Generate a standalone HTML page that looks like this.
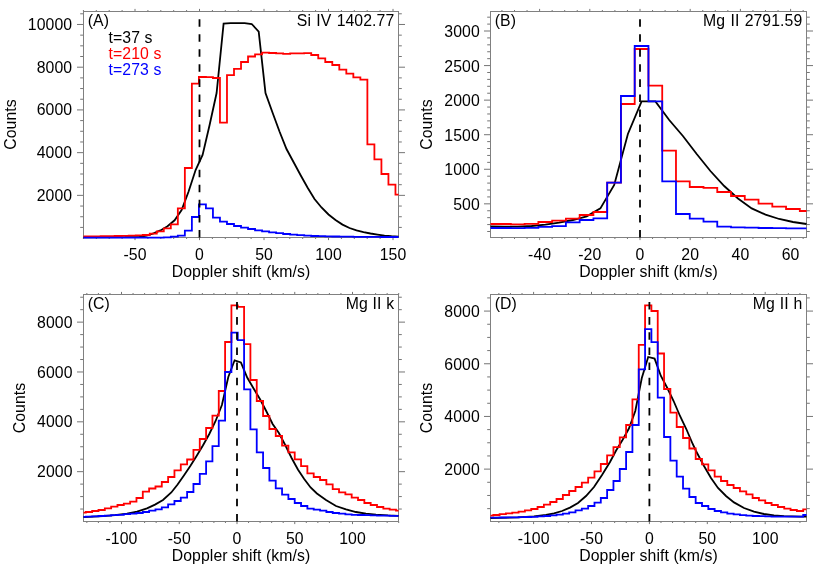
<!DOCTYPE html>
<html><head><meta charset="utf-8"><title>Line profiles</title>
<style>
html,body{margin:0;padding:0;background:#fff;}
svg{display:block;will-change:transform;}
text{font-family:"Liberation Sans",sans-serif;font-size:15.8px;fill:#000;font-kerning:none;letter-spacing:0.08px;}
</style></head>
<body>
<svg width="830" height="567" viewBox="0 0 830 567">
<rect x="0" y="0" width="830" height="567" fill="#ffffff"/>
<path d="M83.4,237.5v1.5M83.4,11.5v-1.5M96.3,237.5v1.5M96.3,11.5v-1.5M109.2,237.5v1.5M109.2,11.5v-1.5M122.1,237.5v1.5M122.1,11.5v-1.5M135,237.5v2.6M135,11.5v-2.6M147.9,237.5v1.5M147.9,11.5v-1.5M160.8,237.5v1.5M160.8,11.5v-1.5M173.7,237.5v1.5M173.7,11.5v-1.5M186.6,237.5v1.5M186.6,11.5v-1.5M199.5,237.5v2.6M199.5,11.5v-2.6M212.4,237.5v1.5M212.4,11.5v-1.5M225.3,237.5v1.5M225.3,11.5v-1.5M238.2,237.5v1.5M238.2,11.5v-1.5M251.1,237.5v1.5M251.1,11.5v-1.5M264,237.5v2.6M264,11.5v-2.6M276.9,237.5v1.5M276.9,11.5v-1.5M289.8,237.5v1.5M289.8,11.5v-1.5M302.7,237.5v1.5M302.7,11.5v-1.5M315.6,237.5v1.5M315.6,11.5v-1.5M328.5,237.5v2.6M328.5,11.5v-2.6M341.4,237.5v1.5M341.4,11.5v-1.5M354.3,237.5v1.5M354.3,11.5v-1.5M367.2,237.5v1.5M367.2,11.5v-1.5M380.1,237.5v1.5M380.1,11.5v-1.5M393,237.5v2.6M393,11.5v-2.6M83.5,227.42h-3.3M398.5,227.42h3.3M83.5,216.74h-3.3M398.5,216.74h3.3M83.5,206.06h-3.3M398.5,206.06h3.3M83.5,195.37h-6.5M398.5,195.37h6.5M83.5,184.69h-3.3M398.5,184.69h3.3M83.5,174.01h-3.3M398.5,174.01h3.3M83.5,163.33h-3.3M398.5,163.33h3.3M83.5,152.65h-6.5M398.5,152.65h6.5M83.5,141.97h-3.3M398.5,141.97h3.3M83.5,131.28h-3.3M398.5,131.28h3.3M83.5,120.6h-3.3M398.5,120.6h3.3M83.5,109.92h-6.5M398.5,109.92h6.5M83.5,99.24h-3.3M398.5,99.24h3.3M83.5,88.56h-3.3M398.5,88.56h3.3M83.5,77.88h-3.3M398.5,77.88h3.3M83.5,67.2h-6.5M398.5,67.2h6.5M83.5,56.51h-3.3M398.5,56.51h3.3M83.5,45.83h-3.3M398.5,45.83h3.3M83.5,35.15h-3.3M398.5,35.15h3.3M83.5,24.47h-6.5M398.5,24.47h6.5M83.5,13.79h-3.3M398.5,13.79h3.3" stroke="#000" stroke-width="0.55" fill="none"/>
<rect x="83.5" y="11.5" width="315" height="226" fill="none" stroke="#808080" stroke-width="1" shape-rendering="crispEdges"/>
<polyline points="83.5,237.4 125,237.2 139.5,236.8 146.5,235.5 153.5,233.4 160.5,230.4 167.5,226.2 174.6,220.3 181.6,210 188.6,191.5 195.6,170 202.6,155 209.6,125 216.6,93 223.6,23.6 230.6,23.2 237.6,23.2 244.6,23.2 251.7,24 258.7,31.6 265.5,93 272.5,112.5 279.5,131.5 286.5,149 293.5,162 300.5,175 307.5,187.5 314.5,199 321.5,207.5 328.5,214.5 335.5,220 342.5,224.6 349.5,228 356.5,230.4 363.5,232.2 370.5,233.5 377.5,234.6 384.5,235.6 391.5,236.2 398.5,236.6" fill="none" stroke="#000000" stroke-width="1.8" stroke-linejoin="miter" stroke-linejoin="round"/>
<polyline points="83.5,236.3 86.58,236.3 86.58,236.3 93.6,236.3 93.6,236.3 100.62,236.3 100.62,236.2 107.64,236.2 107.64,236.1 114.66,236.1 114.66,236 121.68,236 121.68,235.8 128.7,235.8 128.7,235.6 135.72,235.6 135.72,235.3 142.74,235.3 142.74,235 149.76,235 149.76,233.6 156.78,233.6 156.78,231.4 163.8,231.4 163.8,228.4 170.82,228.4 170.82,224.4 177.84,224.4 177.84,208.4 184.86,208.4 184.86,168 191.88,168 191.88,83.6 198.9,83.6 198.9,77 205.92,77 205.92,77.2 212.94,77.2 212.94,78 219.96,78 219.96,122.7 226.98,122.7 226.98,75.1 234,75.1 234,68.9 241.02,68.9 241.02,62 248.04,62 248.04,56.5 255.06,56.5 255.06,54.4 262.08,54.4 262.08,52.6 269.1,52.6 269.1,53 276.12,53 276.12,53.4 283.14,53.4 283.14,53.8 290.16,53.8 290.16,53.4 297.18,53.4 297.18,53.4 304.2,53.4 304.2,53.2 311.22,53.2 311.22,55 318.24,55 318.24,58.4 325.26,58.4 325.26,62 332.28,62 332.28,65 339.3,65 339.3,69.6 346.32,69.6 346.32,73.6 353.34,73.6 353.34,77.4 360.36,77.4 360.36,79.6 367.38,79.6 367.38,144.4 374.4,144.4 374.4,159.4 381.42,159.4 381.42,174 388.44,174 388.44,184.6 395.46,184.6 395.46,194.6 398.5,194.6" fill="none" stroke="#ff0000" stroke-width="1.8" stroke-linejoin="miter" />
<polyline points="83.5,237.7 86.58,237.7 86.58,237.7 93.6,237.7 93.6,237.7 100.62,237.7 100.62,237.7 107.64,237.7 107.64,237.7 114.66,237.7 114.66,237.7 121.68,237.7 121.68,237.7 128.7,237.7 128.7,237.7 135.72,237.7 135.72,237.7 142.74,237.7 142.74,237.7 149.76,237.7 149.76,237.7 156.78,237.7 156.78,237.7 163.8,237.7 163.8,237.3 170.82,237.3 170.82,236.6 177.84,236.6 177.84,235.6 184.86,235.6 184.86,230.6 191.88,230.6 191.88,217 198.9,217 198.9,204.4 205.92,204.4 205.92,208.4 212.94,208.4 212.94,217.6 219.96,217.6 219.96,221.6 226.98,221.6 226.98,224 234,224 234,226 241.02,226 241.02,227.6 248.04,227.6 248.04,229 255.06,229 255.06,230.4 262.08,230.4 262.08,231.4 269.1,231.4 269.1,232.4 276.12,232.4 276.12,233.2 283.14,233.2 283.14,234 290.16,234 290.16,234.6 297.18,234.6 297.18,235.2 304.2,235.2 304.2,235.6 311.22,235.6 311.22,236 318.24,236 318.24,236.2 325.26,236.2 325.26,236.4 332.28,236.4 332.28,236.5 339.3,236.5 339.3,236.6 346.32,236.6 346.32,236.7 353.34,236.7 353.34,236.8 360.36,236.8 360.36,236.8 367.38,236.8 367.38,236.9 374.4,236.9 374.4,236.9 381.42,236.9 381.42,237 388.44,237 388.44,237 395.46,237 395.46,237 398.5,237" fill="none" stroke="#0000ff" stroke-width="1.8" stroke-linejoin="miter" />
<line x1="199.5" y1="237.5" x2="199.5" y2="14" stroke="#000" stroke-width="1.8" stroke-dasharray="7.53 7.53"/>
<text transform="translate(72.2,200.87)" text-anchor="end">2000</text>
<text transform="translate(72.2,158.15)" text-anchor="end">4000</text>
<text transform="translate(72.2,115.42)" text-anchor="end">6000</text>
<text transform="translate(72.2,72.7)" text-anchor="end">8000</text>
<text transform="translate(72.2,29.97)" text-anchor="end">10000</text>
<text transform="translate(135,259.9)" text-anchor="middle">-50</text>
<text transform="translate(199.5,259.9)" text-anchor="middle">0</text>
<text transform="translate(264,259.9)" text-anchor="middle">50</text>
<text transform="translate(328.5,259.9)" text-anchor="middle">100</text>
<text transform="translate(393,259.9)" text-anchor="middle">150</text>
<text transform="translate(241,277.3)" text-anchor="middle">Doppler shift (km/s)</text>
<text transform="translate(15.9,124.5) rotate(-90)" text-anchor="middle">Counts</text>
<text transform="translate(87.7,25.9)">(A)</text>
<text transform="translate(394.3,25.6)" text-anchor="end" style="word-spacing:0.8px">Si IV 1402.77</text>
<text transform="translate(108.6,42.6)" style="fill:#000000">t=37 s</text>
<text transform="translate(108.6,58.8)" style="fill:#ff0000">t=210 s</text>
<text transform="translate(108.6,75)" style="fill:#0000ff">t=273 s</text>
<path d="M501.95,237.5v1.5M501.95,11.5v-1.5M514.5,237.5v1.5M514.5,11.5v-1.5M527.05,237.5v1.5M527.05,11.5v-1.5M539.6,237.5v2.6M539.6,11.5v-2.6M552.15,237.5v1.5M552.15,11.5v-1.5M564.7,237.5v1.5M564.7,11.5v-1.5M577.25,237.5v1.5M577.25,11.5v-1.5M589.8,237.5v2.6M589.8,11.5v-2.6M602.35,237.5v1.5M602.35,11.5v-1.5M614.9,237.5v1.5M614.9,11.5v-1.5M627.45,237.5v1.5M627.45,11.5v-1.5M640,237.5v2.6M640,11.5v-2.6M652.55,237.5v1.5M652.55,11.5v-1.5M665.1,237.5v1.5M665.1,11.5v-1.5M677.65,237.5v1.5M677.65,11.5v-1.5M690.2,237.5v2.6M690.2,11.5v-2.6M702.75,237.5v1.5M702.75,11.5v-1.5M715.3,237.5v1.5M715.3,11.5v-1.5M727.85,237.5v1.5M727.85,11.5v-1.5M740.4,237.5v2.6M740.4,11.5v-2.6M752.95,237.5v1.5M752.95,11.5v-1.5M765.5,237.5v1.5M765.5,11.5v-1.5M778.05,237.5v1.5M778.05,11.5v-1.5M790.6,237.5v2.6M790.6,11.5v-2.6M803.15,237.5v1.5M803.15,11.5v-1.5M490.5,231.49h-3.3M806.5,231.49h3.3M490.5,224.57h-3.3M806.5,224.57h3.3M490.5,217.66h-3.3M806.5,217.66h3.3M490.5,210.75h-3.3M806.5,210.75h3.3M490.5,203.84h-6.5M806.5,203.84h6.5M490.5,196.92h-3.3M806.5,196.92h3.3M490.5,190.01h-3.3M806.5,190.01h3.3M490.5,183.1h-3.3M806.5,183.1h3.3M490.5,176.18h-3.3M806.5,176.18h3.3M490.5,169.27h-6.5M806.5,169.27h6.5M490.5,162.36h-3.3M806.5,162.36h3.3M490.5,155.44h-3.3M806.5,155.44h3.3M490.5,148.53h-3.3M806.5,148.53h3.3M490.5,141.62h-3.3M806.5,141.62h3.3M490.5,134.71h-6.5M806.5,134.71h6.5M490.5,127.79h-3.3M806.5,127.79h3.3M490.5,120.88h-3.3M806.5,120.88h3.3M490.5,113.97h-3.3M806.5,113.97h3.3M490.5,107.05h-3.3M806.5,107.05h3.3M490.5,100.14h-6.5M806.5,100.14h6.5M490.5,93.23h-3.3M806.5,93.23h3.3M490.5,86.31h-3.3M806.5,86.31h3.3M490.5,79.4h-3.3M806.5,79.4h3.3M490.5,72.49h-3.3M806.5,72.49h3.3M490.5,65.58h-6.5M806.5,65.58h6.5M490.5,58.66h-3.3M806.5,58.66h3.3M490.5,51.75h-3.3M806.5,51.75h3.3M490.5,44.84h-3.3M806.5,44.84h3.3M490.5,37.92h-3.3M806.5,37.92h3.3M490.5,31.01h-6.5M806.5,31.01h6.5M490.5,24.1h-3.3M806.5,24.1h3.3M490.5,17.18h-3.3M806.5,17.18h3.3" stroke="#000" stroke-width="0.55" fill="none"/>
<rect x="490.5" y="11.5" width="316" height="226" fill="none" stroke="#808080" stroke-width="1" shape-rendering="crispEdges"/>
<polyline points="490.5,226.4 504.1,226.6 517.9,226.6 531.6,226 545.4,224.6 559.1,222.6 572.9,220 586.7,216.4 600.4,208.4 614.2,185 627.9,134 641.6,101.4 655.4,101.4 669.2,120 682.9,136 696.7,154 710.4,171 724.2,186 738,198.5 751.7,208.4 765.5,214.6 779.2,219 793,222 806.5,224" fill="none" stroke="#000000" stroke-width="1.8" stroke-linejoin="miter" stroke-linejoin="round"/>
<polyline points="490.5,224 497.1,224 497.1,224 510.86,224 510.86,224.4 524.62,224.4 524.62,223.8 538.38,223.8 538.38,222 552.14,222 552.14,220.6 565.9,220.6 565.9,218.6 579.66,218.6 579.66,215 593.42,215 593.42,212 607.18,212 607.18,182.6 620.94,182.6 620.94,104 634.7,104 634.7,49 648.46,49 648.46,85.6 662.22,85.6 662.22,150.6 675.98,150.6 675.98,181.4 689.74,181.4 689.74,187 703.5,187 703.5,187.8 717.26,187.8 717.26,192 731.02,192 731.02,196 744.78,196 744.78,199.6 758.54,199.6 758.54,203.6 772.3,203.6 772.3,206.6 786.06,206.6 786.06,209 799.82,209 799.82,211 806.5,211" fill="none" stroke="#ff0000" stroke-width="1.8" stroke-linejoin="miter" />
<polyline points="490.5,228 497.1,228 497.1,228 510.86,228 510.86,228.2 524.62,228.2 524.62,227.8 538.38,227.8 538.38,226.9 552.14,226.9 552.14,226.2 565.9,226.2 565.9,222.4 579.66,222.4 579.66,220 593.42,220 593.42,218.4 607.18,218.4 607.18,182.6 620.94,182.6 620.94,96 634.7,96 634.7,46 648.46,46 648.46,101.4 662.22,101.4 662.22,181.4 675.98,181.4 675.98,214 689.74,214 689.74,218.6 703.5,218.6 703.5,221.6 717.26,221.6 717.26,226.6 731.02,226.6 731.02,227.4 744.78,227.4 744.78,227.6 758.54,227.6 758.54,228 772.3,228 772.3,228.2 786.06,228.2 786.06,228.4 799.82,228.4 799.82,228.4 806.5,228.4" fill="none" stroke="#0000ff" stroke-width="1.8" stroke-linejoin="miter" />
<line x1="640" y1="237.5" x2="640" y2="14" stroke="#000" stroke-width="1.8" stroke-dasharray="7.53 7.53"/>
<text transform="translate(479.8,209.84)" text-anchor="end">500</text>
<text transform="translate(479.8,175.27)" text-anchor="end">1000</text>
<text transform="translate(479.8,140.71)" text-anchor="end">1500</text>
<text transform="translate(479.8,106.14)" text-anchor="end">2000</text>
<text transform="translate(479.8,71.58)" text-anchor="end">2500</text>
<text transform="translate(479.8,37.01)" text-anchor="end">3000</text>
<text transform="translate(539.6,259.9)" text-anchor="middle">-40</text>
<text transform="translate(589.8,259.9)" text-anchor="middle">-20</text>
<text transform="translate(640,259.9)" text-anchor="middle">0</text>
<text transform="translate(690.2,259.9)" text-anchor="middle">20</text>
<text transform="translate(740.4,259.9)" text-anchor="middle">40</text>
<text transform="translate(790.6,259.9)" text-anchor="middle">60</text>
<text transform="translate(648.5,277.3)" text-anchor="middle">Doppler shift (km/s)</text>
<text transform="translate(432,124.5) rotate(-90)" text-anchor="middle">Counts</text>
<text transform="translate(494.7,25.9)">(B)</text>
<text transform="translate(802.3,25.6)" text-anchor="end" style="word-spacing:0.8px">Mg II 2791.59</text>
<path d="M86.85,521.5v1.5M86.85,294.5v-1.5M98.4,521.5v1.5M98.4,294.5v-1.5M109.95,521.5v1.5M109.95,294.5v-1.5M121.5,521.5v2.6M121.5,294.5v-2.6M133.05,521.5v1.5M133.05,294.5v-1.5M144.6,521.5v1.5M144.6,294.5v-1.5M156.15,521.5v1.5M156.15,294.5v-1.5M167.7,521.5v1.5M167.7,294.5v-1.5M179.25,521.5v2.6M179.25,294.5v-2.6M190.8,521.5v1.5M190.8,294.5v-1.5M202.35,521.5v1.5M202.35,294.5v-1.5M213.9,521.5v1.5M213.9,294.5v-1.5M225.45,521.5v1.5M225.45,294.5v-1.5M237,521.5v2.6M237,294.5v-2.6M248.55,521.5v1.5M248.55,294.5v-1.5M260.1,521.5v1.5M260.1,294.5v-1.5M271.65,521.5v1.5M271.65,294.5v-1.5M283.2,521.5v1.5M283.2,294.5v-1.5M294.75,521.5v2.6M294.75,294.5v-2.6M306.3,521.5v1.5M306.3,294.5v-1.5M317.85,521.5v1.5M317.85,294.5v-1.5M329.4,521.5v1.5M329.4,294.5v-1.5M340.95,521.5v1.5M340.95,294.5v-1.5M352.5,521.5v2.6M352.5,294.5v-2.6M364.05,521.5v1.5M364.05,294.5v-1.5M375.6,521.5v1.5M375.6,294.5v-1.5M387.15,521.5v1.5M387.15,294.5v-1.5M398.7,521.5v1.5M398.7,294.5v-1.5M83.5,509.04h-3.3M398.5,509.04h3.3M83.5,496.58h-3.3M398.5,496.58h3.3M83.5,484.12h-3.3M398.5,484.12h3.3M83.5,471.66h-6.5M398.5,471.66h6.5M83.5,459.2h-3.3M398.5,459.2h3.3M83.5,446.74h-3.3M398.5,446.74h3.3M83.5,434.28h-3.3M398.5,434.28h3.3M83.5,421.82h-6.5M398.5,421.82h6.5M83.5,409.36h-3.3M398.5,409.36h3.3M83.5,396.9h-3.3M398.5,396.9h3.3M83.5,384.44h-3.3M398.5,384.44h3.3M83.5,371.98h-6.5M398.5,371.98h6.5M83.5,359.52h-3.3M398.5,359.52h3.3M83.5,347.06h-3.3M398.5,347.06h3.3M83.5,334.6h-3.3M398.5,334.6h3.3M83.5,322.14h-6.5M398.5,322.14h6.5M83.5,309.68h-3.3M398.5,309.68h3.3M83.5,297.22h-3.3M398.5,297.22h3.3" stroke="#000" stroke-width="0.55" fill="none"/>
<rect x="83.5" y="294.5" width="315" height="227" fill="none" stroke="#808080" stroke-width="1" shape-rendering="crispEdges"/>
<polyline points="83.5,517.2 103,516.2 115,515.2 127,513.6 137,511.6 147,508.4 155,504.6 163,500 171.3,492.5 177.6,484.5 183.9,475.5 190.3,466 196.6,456 202.9,445.5 209.3,434 215.6,421 221.9,405 228.3,377 234.6,360.3 240.9,362.5 247.2,377.5 253.6,388.5 259.9,399 266.2,411 272.6,424 278.9,433 285.2,445 291.6,458 297.9,469.5 304.2,479 310.6,487.5 316.9,493.5 326,500 336,506 346,509.4 356,512 366,513.6 376,514.6 388,515.4 398.5,515.8" fill="none" stroke="#000000" stroke-width="1.8" stroke-linejoin="miter" stroke-linejoin="round"/>
<polyline points="83.5,512.6 85.83,512.6 85.83,512 92.16,512 92.16,511 98.49,511 98.49,510 104.82,510 104.82,508.4 111.15,508.4 111.15,506.6 117.48,506.6 117.48,505 123.81,505 123.81,503.6 130.14,503.6 130.14,501.6 136.47,501.6 136.47,498 142.8,498 142.8,491.6 149.13,491.6 149.13,488.5 155.46,488.5 155.46,486.5 161.79,486.5 161.79,482 168.12,482 168.12,477 174.45,477 174.45,470.4 180.78,470.4 180.78,464.4 187.11,464.4 187.11,459.5 193.44,459.5 193.44,449.8 199.77,449.8 199.77,439 206.1,439 206.1,428 212.43,428 212.43,415.6 218.76,415.6 218.76,391 225.09,391 225.09,342 231.42,342 231.42,305.4 237.75,305.4 237.75,306.9 244.08,306.9 244.08,344.1 250.41,344.1 250.41,380 256.74,380 256.74,401 263.07,401 263.07,416 269.4,416 269.4,429 275.73,429 275.73,436 282.06,436 282.06,445.6 288.39,445.6 288.39,452.4 294.72,452.4 294.72,459.4 301.05,459.4 301.05,466.2 307.38,466.2 307.38,473.4 313.71,473.4 313.71,477 320.04,477 320.04,480 326.37,480 326.37,484.4 332.7,484.4 332.7,489.2 339.03,489.2 339.03,492.4 345.36,492.4 345.36,494.4 351.69,494.4 351.69,497.6 358.02,497.6 358.02,500 364.35,500 364.35,503 370.68,503 370.68,505 377.01,505 377.01,507 383.34,507 383.34,508.6 389.67,508.6 389.67,509.6 396,509.6 396,510.6 398.5,510.6" fill="none" stroke="#ff0000" stroke-width="1.8" stroke-linejoin="miter" />
<polyline points="83.5,516.8 85.83,516.8 85.83,516.6 92.16,516.6 92.16,516.4 98.49,516.4 98.49,516 104.82,516 104.82,515.6 111.15,515.6 111.15,515.2 117.48,515.2 117.48,514.8 123.81,514.8 123.81,514.2 130.14,514.2 130.14,513.6 136.47,513.6 136.47,513 142.8,513 142.8,512 149.13,512 149.13,510.6 155.46,510.6 155.46,509.4 161.79,509.4 161.79,507.4 168.12,507.4 168.12,504.4 174.45,504.4 174.45,501 180.78,501 180.78,497.6 187.11,497.6 187.11,492 193.44,492 193.44,484 199.77,484 199.77,473.8 206.1,473.8 206.1,461.3 212.43,461.3 212.43,446.2 218.76,446.2 218.76,420.6 225.09,420.6 225.09,372 231.42,372 231.42,332.6 237.75,332.6 237.75,340.1 244.08,340.1 244.08,389.3 250.41,389.3 250.41,429.4 256.74,429.4 256.74,452.4 263.07,452.4 263.07,468 269.4,468 269.4,480.6 275.73,480.6 275.73,488.3 282.06,488.3 282.06,494.6 288.39,494.6 288.39,499 294.72,499 294.72,503 301.05,503 301.05,506 307.38,506 307.38,508.6 313.71,508.6 313.71,509.6 320.04,509.6 320.04,510.6 326.37,510.6 326.37,512 332.7,512 332.7,513 339.03,513 339.03,513.6 345.36,513.6 345.36,514.4 351.69,514.4 351.69,514.8 358.02,514.8 358.02,515 364.35,515 364.35,515.2 370.68,515.2 370.68,515.4 377.01,515.4 377.01,515.6 383.34,515.6 383.34,515.6 389.67,515.6 389.67,515.8 396,515.8 396,515.8 398.5,515.8" fill="none" stroke="#0000ff" stroke-width="1.8" stroke-linejoin="miter" />
<line x1="237" y1="521.5" x2="237" y2="299" stroke="#000" stroke-width="1.8" stroke-dasharray="7.57 7.57"/>
<text transform="translate(72.5,477.26)" text-anchor="end">2000</text>
<text transform="translate(72.5,427.42)" text-anchor="end">4000</text>
<text transform="translate(72.5,377.58)" text-anchor="end">6000</text>
<text transform="translate(72.5,327.74)" text-anchor="end">8000</text>
<text transform="translate(121.5,543.9)" text-anchor="middle">-100</text>
<text transform="translate(179.25,543.9)" text-anchor="middle">-50</text>
<text transform="translate(237,543.9)" text-anchor="middle">0</text>
<text transform="translate(294.75,543.9)" text-anchor="middle">50</text>
<text transform="translate(352.5,543.9)" text-anchor="middle">100</text>
<text transform="translate(241,561.3)" text-anchor="middle">Doppler shift (km/s)</text>
<text transform="translate(24.9,408) rotate(-90)" text-anchor="middle">Counts</text>
<text transform="translate(87.7,308.9)">(C)</text>
<text transform="translate(394.3,308.6)" text-anchor="end" style="word-spacing:0.3px">Mg II k</text>
<path d="M498.86,521.5v1.5M498.86,294.5v-1.5M510.44,521.5v1.5M510.44,294.5v-1.5M522.02,521.5v1.5M522.02,294.5v-1.5M533.6,521.5v2.6M533.6,294.5v-2.6M545.18,521.5v1.5M545.18,294.5v-1.5M556.76,521.5v1.5M556.76,294.5v-1.5M568.34,521.5v1.5M568.34,294.5v-1.5M579.92,521.5v1.5M579.92,294.5v-1.5M591.5,521.5v2.6M591.5,294.5v-2.6M603.08,521.5v1.5M603.08,294.5v-1.5M614.66,521.5v1.5M614.66,294.5v-1.5M626.24,521.5v1.5M626.24,294.5v-1.5M637.82,521.5v1.5M637.82,294.5v-1.5M649.4,521.5v2.6M649.4,294.5v-2.6M660.98,521.5v1.5M660.98,294.5v-1.5M672.56,521.5v1.5M672.56,294.5v-1.5M684.14,521.5v1.5M684.14,294.5v-1.5M695.72,521.5v1.5M695.72,294.5v-1.5M707.3,521.5v2.6M707.3,294.5v-2.6M718.88,521.5v1.5M718.88,294.5v-1.5M730.46,521.5v1.5M730.46,294.5v-1.5M742.04,521.5v1.5M742.04,294.5v-1.5M753.62,521.5v1.5M753.62,294.5v-1.5M765.2,521.5v2.6M765.2,294.5v-2.6M776.78,521.5v1.5M776.78,294.5v-1.5M788.36,521.5v1.5M788.36,294.5v-1.5M799.94,521.5v1.5M799.94,294.5v-1.5M490.5,508.63h-3.3M806.5,508.63h3.3M490.5,495.46h-3.3M806.5,495.46h3.3M490.5,482.29h-3.3M806.5,482.29h3.3M490.5,469.12h-6.5M806.5,469.12h6.5M490.5,455.95h-3.3M806.5,455.95h3.3M490.5,442.78h-3.3M806.5,442.78h3.3M490.5,429.61h-3.3M806.5,429.61h3.3M490.5,416.44h-6.5M806.5,416.44h6.5M490.5,403.27h-3.3M806.5,403.27h3.3M490.5,390.1h-3.3M806.5,390.1h3.3M490.5,376.93h-3.3M806.5,376.93h3.3M490.5,363.76h-6.5M806.5,363.76h6.5M490.5,350.59h-3.3M806.5,350.59h3.3M490.5,337.42h-3.3M806.5,337.42h3.3M490.5,324.25h-3.3M806.5,324.25h3.3M490.5,311.08h-6.5M806.5,311.08h6.5M490.5,297.91h-3.3M806.5,297.91h3.3" stroke="#000" stroke-width="0.55" fill="none"/>
<rect x="490.5" y="294.5" width="316" height="227" fill="none" stroke="#808080" stroke-width="1" shape-rendering="crispEdges"/>
<polyline points="490.5,518 518,517.4 534,516.4 546,515 554,513.4 562,511 570,507.6 578,503 586,496 594,487 602,475 610,462 616.1,450.5 622.5,440 628.9,428.5 635.3,411 641.8,378 648.2,357 654.6,358.6 660.9,376 667.3,388 673.6,401 680,416 686.3,429 692.7,444 696,451 704,466 711,478 718,488 726,496 734,502.4 744,508 754,511.6 764,514 774,515.4 784,516.2 800,516.6 806.5,516.6" fill="none" stroke="#000000" stroke-width="1.8" stroke-linejoin="miter" stroke-linejoin="round"/>
<polyline points="490.5,515.6 493.27,515.6 493.27,515 499.6,515 499.6,514.2 505.92,514.2 505.92,513.4 512.25,513.4 512.25,512.6 518.58,512.6 518.57,511.6 524.9,511.6 524.9,510.4 531.23,510.4 531.23,509 537.55,509 537.55,507 543.88,507 543.88,504.6 550.2,504.6 550.2,502 556.52,502 556.52,499 562.85,499 562.85,495 569.18,495 569.17,491 575.5,491 575.5,487 581.83,487 581.82,482.6 588.15,482.6 588.15,477.6 594.48,477.6 594.48,471.4 600.8,471.4 600.8,464 607.12,464 607.12,455.4 613.45,455.4 613.45,447.2 619.77,447.2 619.77,437.4 626.1,437.4 626.1,425 632.43,425 632.42,399.4 638.75,399.4 638.75,344.8 645.08,344.8 645.07,305.4 651.4,305.4 651.4,311 657.73,311 657.73,353.5 664.05,353.5 664.05,389 670.38,389 670.38,412.6 676.7,412.6 676.7,427 683.02,427 683.02,438 689.35,438 689.35,448.5 695.68,448.5 695.67,459 702,459 702,464.4 708.33,464.4 708.32,470.4 714.65,470.4 714.65,476.6 720.98,476.6 720.98,481 727.3,481 727.3,485 733.62,485 733.62,488 739.95,488 739.95,491.4 746.27,491.4 746.27,494.4 752.6,494.4 752.6,498 758.93,498 758.92,500.4 765.25,500.4 765.25,503 771.58,503 771.57,505 777.9,505 777.9,507 784.23,507 784.23,508.6 790.55,508.6 790.55,510 796.88,510 796.88,511 803.2,511 803.2,509.4 806.5,509.4" fill="none" stroke="#ff0000" stroke-width="1.8" stroke-linejoin="miter" />
<polyline points="490.5,517.6 493.27,517.6 493.27,517.6 499.6,517.6 499.6,517.5 505.92,517.5 505.92,517.4 512.25,517.4 512.25,517.3 518.58,517.3 518.57,517.2 524.9,517.2 524.9,517 531.23,517 531.23,516.8 537.55,516.8 537.55,516.4 543.88,516.4 543.88,516 550.2,516 550.2,515.4 556.52,515.4 556.52,514.6 562.85,514.6 562.85,513.6 569.18,513.6 569.17,512.4 575.5,512.4 575.5,510.4 581.83,510.4 581.82,508.6 588.15,508.6 588.15,506 594.48,506 594.48,502.6 600.8,502.6 600.8,498 607.12,498 607.12,490 613.45,490 613.45,481 619.77,481 619.77,469 626.1,469 626.1,452 632.43,452 632.42,425 638.75,425 638.75,369.4 645.08,369.4 645.07,329.1 651.4,329.1 651.4,342.2 657.73,342.2 657.73,397.6 664.05,397.6 664.05,437 670.38,437 670.38,460.6 676.7,460.6 676.7,476.6 683.02,476.6 683.02,488.6 689.35,488.6 689.35,497 695.68,497 695.67,503 702,503 702,506 708.33,506 708.32,509 714.65,509 714.65,511 720.98,511 720.98,512.4 727.3,512.4 727.3,513.6 733.62,513.6 733.62,514.4 739.95,514.4 739.95,515.2 746.27,515.2 746.27,515.6 752.6,515.6 752.6,516 758.93,516 758.92,516.2 765.25,516.2 765.25,516.4 771.58,516.4 771.57,516.6 777.9,516.6 777.9,516.6 784.23,516.6 784.23,516.6 790.55,516.6 790.55,516.6 796.88,516.6 796.88,516.6 803.2,516.6 803.2,515 806.5,515" fill="none" stroke="#0000ff" stroke-width="1.8" stroke-linejoin="miter" />
<line x1="649.4" y1="521.5" x2="649.4" y2="299" stroke="#000" stroke-width="1.8" stroke-dasharray="7.57 7.57"/>
<text transform="translate(479.8,475.02)" text-anchor="end">2000</text>
<text transform="translate(479.8,422.34)" text-anchor="end">4000</text>
<text transform="translate(479.8,369.66)" text-anchor="end">6000</text>
<text transform="translate(479.8,316.98)" text-anchor="end">8000</text>
<text transform="translate(533.6,543.9)" text-anchor="middle">-100</text>
<text transform="translate(591.5,543.9)" text-anchor="middle">-50</text>
<text transform="translate(649.4,543.9)" text-anchor="middle">0</text>
<text transform="translate(707.3,543.9)" text-anchor="middle">50</text>
<text transform="translate(765.2,543.9)" text-anchor="middle">100</text>
<text transform="translate(648.5,561.3)" text-anchor="middle">Doppler shift (km/s)</text>
<text transform="translate(432,408) rotate(-90)" text-anchor="middle">Counts</text>
<text transform="translate(494.7,308.9)">(D)</text>
<text transform="translate(802.3,308.6)" text-anchor="end" style="word-spacing:0.3px">Mg II h</text>
</svg>
</body></html>
